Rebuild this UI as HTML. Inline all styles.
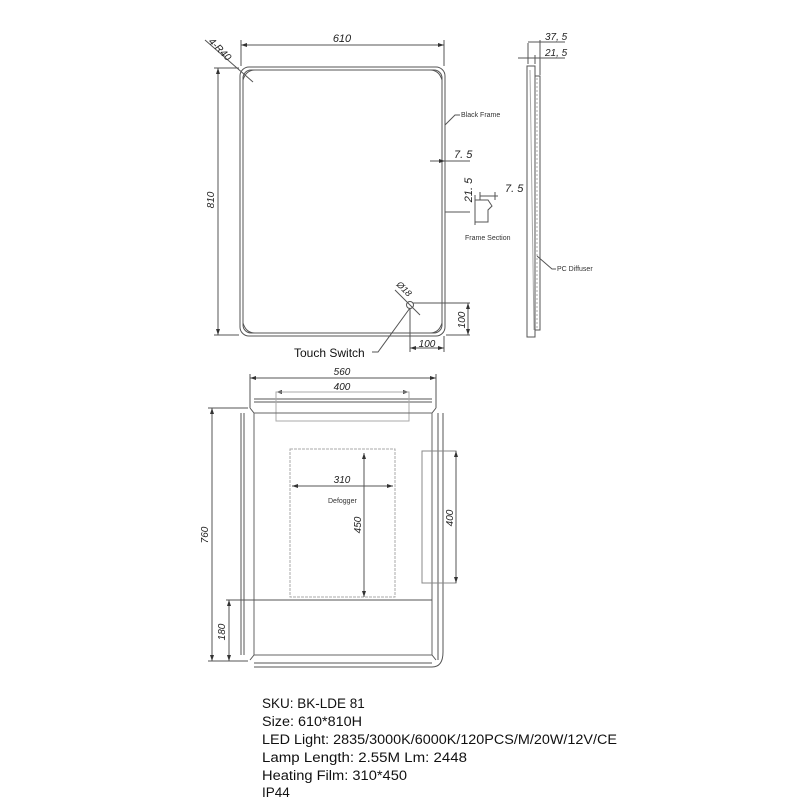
<!DOCTYPE html>
<html><head><style>body{margin:0;background:#fff}svg{display:block}</style></head><body>
<svg width="800" height="800" viewBox="0 0 800 800" xmlns="http://www.w3.org/2000/svg" font-family="Liberation Sans, sans-serif">
<defs><marker id="a" markerWidth="6" markerHeight="6" refX="6" refY="3" orient="auto-start-reverse"><path d="M0,1 L6,3 L0,5z" fill="#333"/></marker></defs>
<g fill="none" stroke="#555" stroke-width="1">
<rect x="240" y="67" width="205" height="269" rx="9"/>
<rect x="243" y="70" width="199" height="263" rx="8"/>
<path d="M243,80 q3,-10 12,-10 M442,80 q-3,-10 -12,-10 M243,323 q3,10 12,10 M442,323 q-3,10 -12,10"/>
<line x1="241" y1="45" x2="444" y2="45" marker-start="url(#a)" marker-end="url(#a)"/>
<line x1="241" y1="40" x2="241" y2="66"/><line x1="444" y1="40" x2="444" y2="66"/>
<line x1="218" y1="68" x2="218" y2="335" marker-start="url(#a)" marker-end="url(#a)"/>
<line x1="214" y1="68" x2="239" y2="68"/><line x1="214" y1="335" x2="239" y2="335"/>
<line x1="205" y1="40" x2="253" y2="82"/>
<path d="M445,125 L455,115 L460,115"/>
<line x1="430" y1="161" x2="445" y2="161" marker-end="url(#a)"/><line x1="445" y1="161" x2="470" y2="161"/>
<line x1="445" y1="212" x2="470" y2="212"/>
<path d="M475,200 L488,200 L492,206 L488,210 L488,222 L475,222"/>
<line x1="475" y1="195" x2="475" y2="225"/><line x1="480" y1="196" x2="498" y2="196"/>
<line x1="480" y1="192" x2="480" y2="200"/><line x1="495" y1="192" x2="495" y2="200"/>
<circle cx="410" cy="305" r="3.5"/>
<line x1="395" y1="290" x2="420" y2="315"/>
<line x1="413" y1="303" x2="470" y2="303"/>
<line x1="468" y1="303" x2="468" y2="335" marker-start="url(#a)" marker-end="url(#a)"/>
<line x1="446" y1="335" x2="470" y2="335"/>
<line x1="410" y1="308" x2="410" y2="352"/><line x1="444" y1="336" x2="444" y2="352"/>
<line x1="410" y1="348" x2="444" y2="348" marker-start="url(#a)" marker-end="url(#a)"/>
<path d="M372,352 L378,352 L410,308"/>
<rect x="527" y="66" width="8" height="271"/>
<rect x="535" y="76" width="5" height="254"/>
<line x1="530" y1="70" x2="534" y2="330" stroke="#aaa"/>
<line x1="537" y1="78" x2="537" y2="328" stroke="#aaa" stroke-dasharray="2,2"/>
<line x1="528" y1="43" x2="528" y2="64"/><line x1="540" y1="40" x2="540" y2="75"/><line x1="535" y1="55" x2="535" y2="64"/>
<line x1="528" y1="42" x2="540" y2="42"/><line x1="540" y1="42" x2="565" y2="42"/>
<line x1="518" y1="58" x2="535" y2="58"/><line x1="535" y1="58" x2="565" y2="58"/>
<path d="M537,256 L552,269 L556,269"/>
<line x1="250" y1="378" x2="436" y2="378" marker-start="url(#a)" marker-end="url(#a)"/>
<line x1="250" y1="374" x2="250" y2="408"/><line x1="436" y1="374" x2="436" y2="408"/>
<line x1="276" y1="392" x2="409" y2="392" marker-start="url(#a)" marker-end="url(#a)"/>
<line x1="254" y1="399" x2="432" y2="399"/><line x1="254" y1="402" x2="432" y2="402"/>
<rect x="276" y="392" width="133" height="29" stroke="#aaa"/>
<path d="M250,408 L254,413 L432,413 L436,408"/>
<rect x="254" y="413" width="178" height="242" stroke="#666"/>
<line x1="241" y1="413" x2="241" y2="655"/><line x1="244" y1="413" x2="244" y2="655"/>
<line x1="438" y1="413" x2="438" y2="660"/><line x1="443" y1="413" x2="443" y2="652"/>
<path d="M254,663 L432,663 M254,667 L432,667 Q443,667 443,652"/>
<path d="M250,660 L254,655 M432,655 L436,660"/>
<rect x="290" y="449" width="105" height="148" stroke="#aaa" stroke-dasharray="3,1"/>
<line x1="292" y1="486" x2="393" y2="486" marker-start="url(#a)" marker-end="url(#a)"/>
<line x1="364" y1="453" x2="364" y2="597" marker-start="url(#a)" marker-end="url(#a)"/>
<rect x="422" y="451" width="34" height="132" stroke="#888"/>
<line x1="456" y1="451" x2="456" y2="583" marker-start="url(#a)" marker-end="url(#a)"/>
<line x1="212" y1="408" x2="212" y2="661" marker-start="url(#a)" marker-end="url(#a)"/>
<line x1="208" y1="408" x2="248" y2="408"/><line x1="208" y1="661" x2="248" y2="661"/>
<line x1="229" y1="600" x2="229" y2="661" marker-start="url(#a)" marker-end="url(#a)"/>
<line x1="226" y1="600" x2="432" y2="600"/>
</g>
<g fill="#222" font-style="italic" font-size="10">
<text x="342" y="42" text-anchor="middle" font-size="11">610</text>
<text transform="translate(214,200) rotate(-90)" text-anchor="middle">810</text>
<text transform="translate(208,42) rotate(45)">4-R40</text>
<text x="454" y="158" font-size="11">7. 5</text>
<text transform="translate(472,190) rotate(-90)" text-anchor="middle" font-size="11">21. 5</text>
<text x="505" y="192" font-size="11">7. 5</text>
<text transform="translate(396,285) rotate(45)" font-size="9">Ø18</text>
<text transform="translate(465,320) rotate(-90)" text-anchor="middle">100</text>
<text x="427" y="347" text-anchor="middle">100</text>
<text x="545" y="40">37, 5</text>
<text x="545" y="56">21, 5</text>
<text x="342" y="375" text-anchor="middle">560</text>
<text x="342" y="390" text-anchor="middle">400</text>
<text x="342" y="483" text-anchor="middle">310</text>
<text transform="translate(361,525) rotate(-90)" text-anchor="middle">450</text>
<text transform="translate(453,518) rotate(-90)" text-anchor="middle">400</text>
<text transform="translate(208,535) rotate(-90)" text-anchor="middle">760</text>
<text transform="translate(225,632) rotate(-90)" text-anchor="middle">180</text>
</g>
<g fill="#333" font-size="7">
<text x="461" y="117">Black Frame</text>
<text x="465" y="240">Frame Section</text>
<text x="557" y="271">PC Diffuser</text>
<text x="328" y="503">Defogger</text>
</g>
<text x="294" y="357" font-size="12" fill="#111">Touch Switch</text>
<g font-size="13.5" fill="#111" xml:space="preserve">
<text x="262" y="708">SKU: BK-LDE 81</text>
<text x="262" y="726" textLength="100" lengthAdjust="spacingAndGlyphs">Size:  610*810H</text>
<text x="262" y="744" textLength="355" lengthAdjust="spacingAndGlyphs">LED Light:  2835/3000K/6000K/120PCS/M/20W/12V/CE</text>
<text x="262" y="762" textLength="205" lengthAdjust="spacingAndGlyphs">Lamp Length:  2.55M   Lm:  2448</text>
<text x="262" y="780" textLength="145" lengthAdjust="spacingAndGlyphs">Heating Film:  310*450</text>
<text x="262" y="797">IP44</text>
</g>
</svg>
</body></html>
